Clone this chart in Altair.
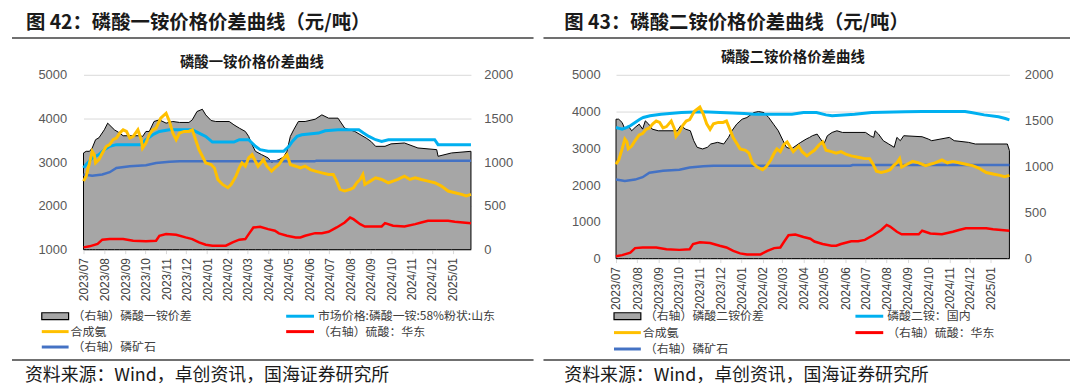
import altair as alt
import pandas as pd

# ---------------- data ----------------
# 合成氨 (left axis, both panels)
AMMONIA = [("2023-07-01",2568),("2023-07-05",2682),("2023-07-10",2985),("2023-07-14",3250),("2023-07-17",3174),
("2023-07-19",2985),("2023-07-24",3061),("2023-07-29",3212),("2023-08-04",3364),("2023-08-09",3402),("2023-08-14",3515),
("2023-08-19",3553),("2023-08-24",3667),("2023-08-29",3742),("2023-09-03",3705),("2023-09-08",3553),("2023-09-13",3591),
("2023-09-20",3742),("2023-09-25",3515),("2023-09-27",3326),("2023-10-02",3439),("2023-10-07",3629),("2023-10-12",3742),
("2023-10-17",3780),("2023-10-24",4007),("2023-11-01",4121),("2023-11-06",3932),("2023-11-11",3667),("2023-11-16",3515),
("2023-11-21",3667),("2023-11-28",3705),("2023-12-05",3705),("2023-12-10",3742),("2023-12-15",3515),("2023-12-20",3288),
("2023-12-25",3136),("2023-12-30",2985),("2024-01-07",2947),("2024-01-12",2870),("2024-01-17",2606),("2024-01-24",2492),
("2024-02-01",2417),("2024-02-06",2492),("2024-02-13",2682),("2024-02-18",2870),("2024-02-22",2985),("2024-02-27",2909),
("2024-03-03",3098),("2024-03-08",3174),("2024-03-13",3023),("2024-03-17",2909),("2024-03-25",3061),("2024-03-30",2909),
("2024-04-06",2795),("2024-04-11",2870),("2024-04-17",2947),("2024-04-24",3098),("2024-04-29",3174),("2024-05-04",2947),
("2024-05-12",2909),("2024-05-19",2870),("2024-05-26",2909),("2024-06-03",2833),("2024-06-10",2795),("2024-06-20",2757),
("2024-06-30",2720),("2024-07-07",2720),("2024-07-12",2568),("2024-07-17",2379),("2024-07-24",2341),("2024-08-01",2379),
("2024-08-06",2417),("2024-08-11",2530),("2024-08-16",2606),("2024-08-20",2720),("2024-08-23",2492),("2024-08-31",2568),
("2024-09-08",2644),("2024-09-17",2606),("2024-09-27",2530),("2024-10-04",2568),("2024-10-11",2606),("2024-10-21",2682),
("2024-10-29",2606),("2024-11-06",2644),("2024-11-15",2606),("2024-11-25",2568),("2024-12-05",2530),("2024-12-15",2455),
("2024-12-25",2341),("2025-01-04",2303),("2025-01-14",2265),("2025-01-21",2227),("2025-01-28",2265)]

# （右轴）硫酸：华东 (right axis, both panels)
SULFURIC = [("2023-07-01",26),("2023-07-10",38),("2023-07-22",65),("2023-07-29",114),("2023-08-09",121),("2023-08-29",121),
("2023-09-13",102),("2023-10-02",95),("2023-10-17",102),("2023-10-22",159),("2023-11-01",178),("2023-11-16",170),
("2023-11-30",140),("2023-12-10",121),("2023-12-20",83),("2023-12-30",57),("2024-01-09",45),("2024-01-29",45),
("2024-02-08",83),("2024-02-18",114),("2024-02-27",121),("2024-03-03",178),("2024-03-10",254),("2024-03-20",261),
("2024-04-01",235),("2024-04-11",216),("2024-04-17",186),("2024-04-29",159),("2024-05-12",140),("2024-05-19",140),
("2024-05-26",159),("2024-06-10",189),("2024-06-20",189),("2024-06-30",204),("2024-07-12",254),("2024-07-24",311),
("2024-08-01",367),("2024-08-06",349),("2024-08-16",292),("2024-08-23",265),("2024-09-17",265),("2024-09-22",303),
("2024-10-04",273),("2024-10-21",265),("2024-11-06",292),("2024-11-15",311),("2024-11-25",330),("2024-12-25",330),
("2025-01-04",320),("2025-01-28",303)]

# （右轴）磷矿石 (right axis, both panels)
ROCK = [("2023-07-01",860),("2023-07-14",845),("2023-07-29",860),("2023-08-09",886),("2023-08-19",935),("2023-09-08",955),
("2023-10-02",966),("2023-10-17",992),("2023-11-06",1005),("2023-11-21",1010),("2024-06-09",1010),("2024-06-12",1018),
("2025-01-28",1018)]

# （右轴）磷酸一铵价差 (panel 1 area)
MAP_SPREAD = [("2023-07-01",1106),("2023-07-05",1125),("2023-07-10",1125),("2023-07-14",1163),("2023-07-19",1258),
("2023-07-24",1280),("2023-08-01",1371),("2023-08-06",1447),("2023-08-11",1409),("2023-08-16",1371),("2023-08-24",1333),
("2023-08-29",1303),("2023-09-23",1303),("2023-09-27",1295),("2023-10-02",1352),("2023-10-07",1352),("2023-10-14",1466),
("2023-10-22",1485),("2023-11-01",1447),("2023-11-11",1466),("2023-11-21",1455),("2023-12-05",1455),("2023-12-10",1485),
("2023-12-17",1580),("2023-12-25",1606),("2023-12-30",1542),("2024-01-07",1477),("2024-01-14",1466),("2024-02-03",1466),
("2024-02-10",1428),("2024-02-18",1390),("2024-02-27",1352),("2024-03-03",1295),("2024-03-08",1201),("2024-03-13",1125),
("2024-03-22",1088),("2024-04-01",1049),("2024-04-06",1000),("2024-04-17",1030),("2024-04-24",1060),("2024-04-29",1125),
("2024-05-04",1295),("2024-05-09",1371),("2024-05-16",1466),("2024-05-26",1466),("2024-06-10",1492),("2024-06-20",1542),
("2024-06-30",1504),("2024-07-14",1504),("2024-07-24",1390),("2024-08-08",1352),("2024-08-25",1276),("2024-09-01",1239),
("2024-09-08",1182),("2024-09-22",1182),("2024-10-01",1210),("2024-10-21",1220),("2024-11-10",1163),("2024-12-08",1144),
("2024-12-10",1068),("2024-12-30",1106),("2025-01-28",1125)]

# 市场价格:磷酸一铵:58%粉状:山东 (panel 1, left axis)
MAP_PRICE = [("2023-07-01",2870),("2023-07-05",2947),("2023-07-14",3098),("2023-07-24",3174),("2023-08-01",3288),
("2023-08-09",3364),("2023-08-19",3402),("2023-09-23",3402),("2023-09-27",3439),("2023-10-02",3515),("2023-10-12",3629),
("2023-10-22",3705),("2023-11-06",3742),("2023-12-10",3742),("2023-12-20",3667),("2023-12-30",3591),("2024-01-09",3462),
("2024-02-10",3462),("2024-02-18",3515),("2024-03-03",3515),("2024-03-08",3439),("2024-03-13",3364),("2024-03-20",3288),
("2024-04-01",3250),("2024-04-24",3250),("2024-05-02",3364),("2024-05-07",3477),("2024-05-14",3591),("2024-05-21",3629),
("2024-06-15",3667),("2024-06-25",3720),("2024-07-14",3742),("2024-08-14",3742),("2024-08-21",3667),("2024-08-29",3591),
("2024-09-08",3515),("2024-09-17",3477),("2024-09-27",3515),("2024-12-05",3515),("2024-12-10",3402),("2025-01-28",3402)]

# （右轴）磷酸二铵价差 (panel 2 area)
DAP_SPREAD = [("2023-07-01",1517),("2023-07-05",1517),("2023-07-10",1481),("2023-07-14",1409),("2023-07-19",1445),
("2023-07-24",1391),("2023-07-29",1427),("2023-08-04",1463),("2023-08-09",1409),("2023-08-13",1499),("2023-08-18",1463),
("2023-08-23",1409),("2023-09-01",1391),("2023-09-29",1391),("2023-10-04",1445),("2023-10-11",1409),("2023-10-18",1391),
("2023-10-23",1283),("2023-10-28",1211),("2023-11-05",1193),("2023-11-12",1211),("2023-11-17",1247),("2023-11-27",1265),
("2023-12-06",1247),("2023-12-13",1319),("2023-12-18",1391),("2023-12-25",1463),("2024-01-02",1517),("2024-01-09",1535),
("2024-01-19",1589),("2024-01-26",1600),("2024-02-03",1589),("2024-02-10",1535),("2024-02-17",1463),("2024-02-24",1391),
("2024-03-02",1283),("2024-03-07",1211),("2024-03-14",1193),("2024-03-21",1229),("2024-03-28",1265),("2024-04-05",1301),
("2024-04-10",1319),("2024-04-14",1337),("2024-04-21",1355),("2024-04-26",1301),("2024-05-01",1247),("2024-05-06",1337),
("2024-05-13",1373),("2024-05-20",1391),("2024-05-28",1373),("2024-07-01",1373),("2024-07-08",1337),("2024-07-13",1319),
("2024-07-15",1391),("2024-07-20",1355),("2024-07-27",1283),("2024-08-04",1247),("2024-08-12",1211),("2024-08-16",1319),
("2024-08-21",1283),("2024-08-26",1337),("2024-09-22",1326),("2024-10-01",1301),("2024-10-06",1283),("2024-11-01",1319),
("2024-11-08",1283),("2024-11-29",1265),("2024-12-09",1247),("2025-01-25",1247),("2025-01-28",1175)]

# 磷酸二铵：国内 (panel 2, left axis)
DAP_PRICE = [("2023-07-01",3568),("2023-07-10",3522),("2023-07-17",3568),("2023-07-22",3614),("2023-07-29",3703),
("2023-08-05",3792),("2023-08-10",3838),("2023-08-20",3884),("2023-09-05",3928),("2023-10-05",3973),("2023-11-05",3992),
("2023-12-01",3973),("2024-01-05",3946),("2024-01-20",3928),("2024-03-15",3928),("2024-04-01",3973),("2024-04-20",3973),
("2024-05-04",3910),("2024-05-13",3884),("2024-06-15",3928),("2024-07-10",3973),("2024-08-28",3992),("2024-09-22",4000),
("2024-11-24",4000),("2024-12-03",3973),("2024-12-22",3910),("2025-01-12",3857),("2025-01-22",3811),("2025-01-28",3776)]

P1_LEFT_TICKS = [1000, 2000, 3000, 4000, 5000]
P2_LEFT_TICKS = [0, 1000, 2000, 3000, 4000, 5000]
RIGHT_TICKS = [0, 500, 1000, 1500, 2000]

P1_HEADER = "图 42：磷酸一铵价格价差曲线（元/吨）"
P2_HEADER = "图 43：磷酸二铵价格价差曲线（元/吨）"
P1_TITLE = "磷酸一铵价格价差曲线"
P2_TITLE = "磷酸二铵价格价差曲线"
P1_LEGEND = ["（右轴）磷酸一铵价差", "市场价格:磷酸一铵:58%粉状:山东", "合成氨", "（右轴）硫酸：华东", "（右轴）磷矿石"]
P2_LEGEND = ["（右轴）磷酸二铵价差", "磷酸二铵：国内", "合成氨", "（右轴）硫酸：华东", "（右轴）磷矿石"]
SOURCE = "资料来源：Wind，卓创资讯，国海证券研究所"

# ---------------- styles ----------------
CJK = "Noto Sans CJK SC"
LAT = "Liberation Sans"
GRAY = "#A6A6A6"
LBLUE = "#00B0F0"
YELLOW = "#FFC000"
DBLUE = "#4472C4"
RED = "#FF0000"
LABEL = "#595959"
DUMMY = pd.DataFrame({"k": [0]})


def sdf(pairs):
    return pd.DataFrame({"date": pd.to_datetime([d for d, _ in pairs]), "v": [v for _, v in pairs]})


def xenc():
    return alt.X(
        "date:T",
        scale=alt.Scale(domain=[alt.DateTime(year=2023, month=7, date=1),
                                alt.DateTime(year=2025, month=1, date=28)]),
        axis=alt.Axis(format="%Y/%m", labelAngle=270, tickCount={"interval": "month", "step": 1},
                      labelOverlap=False, labelFlush=False, grid=False, domainColor="#D9D9D9",
                      tickColor="#D9D9D9", tickSize=4, labelPadding=4, labelFont=LAT,
                      labelFontSize=12, labelColor="#404040", title=None),
    )


def txt(s, x, y, size, weight="normal", align="left", font=CJK, color="#1a1a1a"):
    return alt.Chart(DUMMY).mark_text(text=s, align=align, baseline="middle", font=font, fontSize=size,
                                      fontWeight=weight, color=color).encode(x=alt.value(x), y=alt.value(y))


def hrule(x1, x2, y, color, width):
    return alt.Chart(DUMMY).mark_rule(color=color, strokeWidth=width).encode(
        x=alt.value(x1), x2=alt.value(x2), y=alt.value(y))


def panel(spread, price, left_domain, left_ticks, w, h, lpad, rpad, header, hx, title, tx, ty,
          legend, lx1, lx2, rows, srcx, sep):
    rscale = alt.Scale(domain=[0, 2000], nice=False, zero=True)
    raxis = alt.Axis(orient="right", values=RIGHT_TICKS, format="d", ticks=False, domain=False, grid=False,
                     labelPadding=rpad, labelFont=LAT, labelFontSize=13, labelColor=LABEL, title=None)
    lscale = alt.Scale(domain=left_domain, nice=False, zero=False)
    laxis = alt.Axis(orient="left", values=left_ticks, format="d", ticks=False, domain=False, grid=True,
                     gridColor="#D9D9D9", gridWidth=1, labelPadding=lpad, labelFont=LAT,
                     labelFontSize=13, labelColor=LABEL, title=None)

    area = alt.Chart(sdf(spread)).mark_area(color=GRAY, stroke="black", strokeWidth=1, opacity=1).encode(
        x=xenc(), y=alt.Y("v:Q", scale=rscale, axis=raxis))
    rock = alt.Chart(sdf(ROCK)).mark_line(color=DBLUE, strokeWidth=2.5).encode(
        x=xenc(), y=alt.Y("v:Q", scale=rscale, axis=raxis))
    acid = alt.Chart(sdf(SULFURIC)).mark_line(color=RED, strokeWidth=2.5).encode(
        x=xenc(), y=alt.Y("v:Q", scale=rscale, axis=raxis))
    right = alt.layer(area, rock, acid)

    pr = alt.Chart(sdf(price)).mark_line(color=LBLUE, strokeWidth=3).encode(
        x=xenc(), y=alt.Y("v:Q", scale=lscale, axis=laxis))
    am = alt.Chart(sdf(AMMONIA)).mark_line(color=YELLOW, strokeWidth=3).encode(
        x=xenc(), y=alt.Y("v:Q", scale=lscale, axis=laxis))
    left = alt.layer(pr, am)

    sx1, sx2 = sep
    decor = [
        hrule(sx1, sx1 + 2, -64.5, "white", 0.5),   # invisible top anchor
        txt(header, hx, -52.3, 19.5, weight="bold"),
        hrule(sx1, sx2, -37, "#404040", 1.5),
        txt(title, tx, ty, 14.5, weight="bold", align="center"),
        hrule(sx1, sx2, 287, "#404040", 1.5),
        txt(SOURCE, srcx, 303, 18),
    ]
    # legend
    r1, r2, r3 = rows
    fs = 12
    decor.append(alt.Chart(DUMMY).mark_rect(fill=GRAY, stroke="black", strokeWidth=1.2).encode(
        x=alt.value(lx1), x2=alt.value(lx1 + 27), y=alt.value(r1 - 3.5), y2=alt.value(r1 + 3.5)))
    decor.append(txt(legend[0], lx1 + 31, r1, fs, color="#404040"))
    decor.append(hrule(lx2, lx2 + 28, r1, LBLUE, 3))
    decor.append(txt(legend[1], lx2 + 32, r1, fs, color="#404040"))
    decor.append(hrule(lx1, lx1 + 27, r2, YELLOW, 3))
    decor.append(txt(legend[2], lx1 + 29, r2, fs, color="#404040"))
    decor.append(hrule(lx2, lx2 + 28, r2, RED, 3))
    decor.append(txt(legend[3], lx2 + 32, r2, fs, color="#404040"))
    decor.append(hrule(lx1, lx1 + 27, r3, DBLUE, 3))
    decor.append(txt(legend[4], lx1 + 31, r3, fs, color="#404040"))

    return alt.layer(right, left, *decor).resolve_scale(y="independent").properties(width=w, height=h)


p1 = panel(MAP_SPREAD, MAP_PRICE, [1000, 5000], P1_LEFT_TICKS, 390, 176, 17, 13,
           P1_HEADER, -58, P1_TITLE, 169.5, -11.5, P1_LEGEND, -42, 204, (243, 258.5, 274), -59, (-72, 453))
p2 = panel(DAP_SPREAD, DAP_PRICE, [0, 5000], P2_LEFT_TICKS, 396, 185, 16, 15,
           P2_HEADER, -52, P2_TITLE, 178, -16.5, P2_LEGEND, -2, 241, (243, 259.5, 276), -52, (-73, 457))

chart = alt.hconcat(p1, p2, spacing=146, bounds="flush").properties(
    padding={"left": 2, "top": 0, "right": 0, "bottom": 0}
).configure_view(stroke="transparent")

chart.save("out.html", embed_options={"renderer": "svg", "actions": False})
